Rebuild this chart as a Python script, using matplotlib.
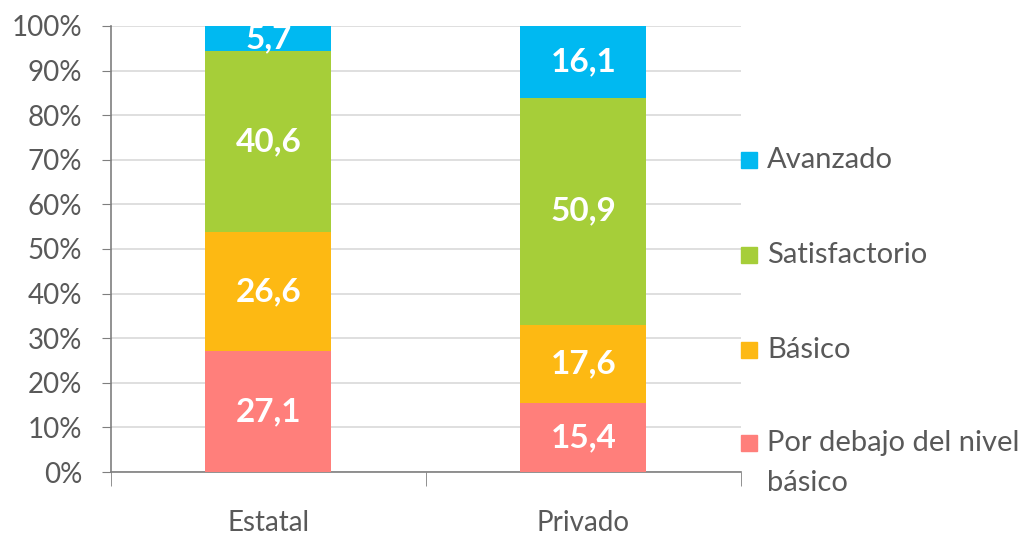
import numpy as np
import matplotlib.pyplot as plt

plt.rcParams['font.family'] = ['Lato', 'DejaVu Sans']

categories = ['Estatal', 'Privado']
levels = ['Por debajo del nivel\nbásico', 'Básico', 'Satisfactorio', 'Avanzado']
values = {
    'Por debajo del nivel\nbásico': [27.1, 15.4],
    'Básico': [26.6, 17.6],
    'Satisfactorio': [40.6, 50.9],
    'Avanzado': [5.7, 16.1],
}
colors = ['#FF7F7B', '#FDB913', '#A6CE39', '#00B9F1']
yticks = [0, 10, 20, 30, 40, 50, 60, 70, 80, 90, 100]

txt = '#595959'
fig = plt.figure(figsize=(10.27, 5.36), dpi=100)
ax = fig.add_axes([0.108, 0.1194, 0.6135, 0.8321])

x = np.arange(len(categories)) + 0.5
bottom = np.zeros(len(categories))
for lvl, col in zip(levels, colors):
    vals = np.array(values[lvl])
    bars = ax.bar(x, vals, 0.4, bottom=bottom, color=col, zorder=3)
    for b, v, y0 in zip(bars, vals, bottom):
        t = ax.text(b.get_x() + b.get_width() / 2, y0 + v / 2, f'{v:.1f}'.replace('.', ','),
                    ha='center', va='center', color='white', fontsize=24,
                    fontweight='bold', zorder=4)
        t.set_clip_path(b)
    bottom += vals

ax.set_xlim(0, 2)
ax.set_ylim(0, 100)
ax.set_yticks(yticks)
ax.set_yticklabels([f'{v}%' for v in yticks])
ax.set_xticks(x)
ax.set_xticklabels(categories)
ax.set_xticks([0, 1, 2], minor=True)
ax.tick_params(axis='x', which='major', length=0, pad=27, labelsize=20, labelcolor=txt)
ax.tick_params(axis='x', which='minor', length=10, color='#7f7f7f', direction='out')
ax.tick_params(axis='y', length=6.5, color='#7f7f7f', labelsize=20, labelcolor=txt, pad=14)
ax.grid(axis='y', color='#d9d9d9', lw=1.2, zorder=0)
for s in ['top', 'right']:
    ax.spines[s].set_visible(False)
for s in ['left', 'bottom']:
    ax.spines[s].set_color('#7f7f7f')
    ax.spines[s].set_linewidth(1.2)

# legend, drawn top to bottom
leg_y = [160, 255, 350, 443]
for lvl, col, py in zip(levels[::-1], colors[::-1], leg_y):
    fy = 1 - py / 536
    fig.patches.append(plt.Rectangle((741 / 1027, fy - 8 / 536), 16 / 1027, 16 / 536,
                                     color=col, transform=fig.transFigure))
    fig.text(767 / 1027, fy + 13 / 536, lvl, ha='left', va='top', fontsize=21,
             color=txt, linespacing=1.65)

fig.savefig('out.png', dpi=100)
